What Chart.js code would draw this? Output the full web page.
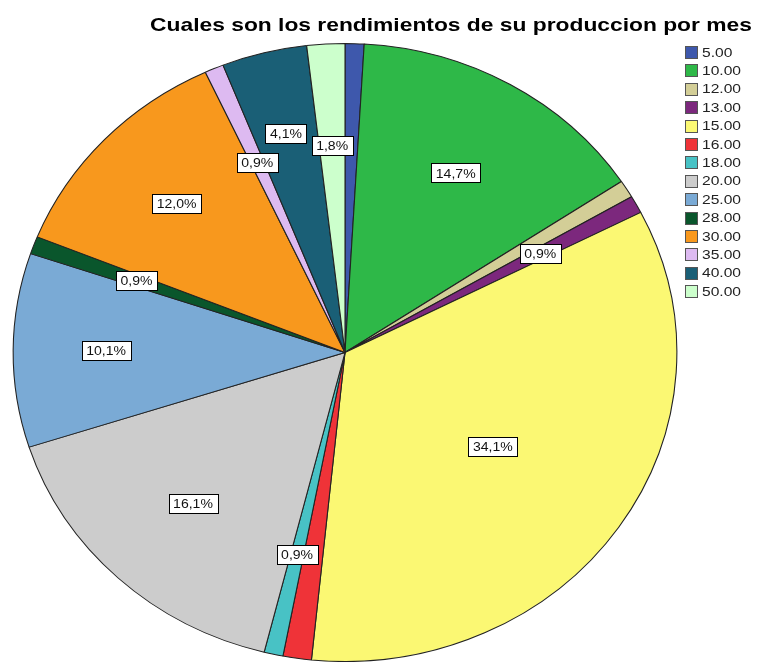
<!DOCTYPE html>
<html>
<head>
<meta charset="utf-8">
<script src="https://cdn.jsdelivr.net/npm/chart.js@4"></script>
<style>
  body { margin: 0; background: #fff; }
  canvas { display: block; }
</style>
</head>
<body>
<canvas id="pie" width="761" height="662"></canvas>
<script>
// valores de la variable y frecuencias (n = 217)
const categorias = ['5.00', '10.00', '12.00', '13.00', '15.00', '16.00', '18.00', '20.00', '25.00', '28.00', '30.00', '35.00', '40.00', '50.00'];
const frecuencias = [2, 32, 2, 2, 74, 3, 2, 35, 22, 2, 26, 2, 9, 4];
const colores = ['#3e58ac', '#2eb848', '#d3ce97', '#7c287d', '#fbf873', '#ef3338', '#48c2c5', '#cccccc', '#7aaad5', '#0a562c', '#f8981d', '#ddbaf1', '#1a5f76', '#ccffcc'];
const conEtiqueta = ['10.00', '13.00', '15.00', '18.00', '20.00', '25.00', '28.00', '30.00', '35.00', '40.00', '50.00'];
const titulo = 'Cuales son los rendimientos de su produccion por mes';

const FONT = 'Arial, "Liberation Sans", sans-serif';
const SX = 1.074; // el gráfico original está algo estirado a lo ancho
const radioEtiqueta = { '15.00': 0.54, '25.00': 0.72, '30.00': 0.70, '40.00': 0.73 };

const total = frecuencias.reduce((s, v) => s + v, 0);
const pct = v => (v / total * 100).toFixed(1).replace('.', ',') + '%';

// texto ensanchado en horizontal, como en la imagen original
function texto(ctx, t, x, y, sx) {
    ctx.save();
    ctx.translate(x, y);
    ctx.scale(sx, 1);
    ctx.fillText(t, 0, 0);
    ctx.restore();
}

const estirar = {
    id: 'estirar',
    beforeDatasetsDraw(chart) {
        const arc = chart.getDatasetMeta(0).data[0];
        const ctx = chart.ctx;
        ctx.save();
        ctx.translate(arc.x, arc.y);
        ctx.scale(SX, 1);
        ctx.translate(-arc.x, -arc.y);
    },
    afterDatasetsDraw(chart) {
        chart.ctx.restore();
    }
};

const textos = {
    id: 'textos',
    afterDraw(chart) {
        const ctx = chart.ctx;
        const meta = chart.getDatasetMeta(0);
        // etiquetas de porcentaje
        ctx.save();
        ctx.font = '13px ' + FONT;
        ctx.textAlign = 'center';
        ctx.textBaseline = 'middle';
        meta.data.forEach((arc, i) => {
            const cat = categorias[i];
            if (!conEtiqueta.includes(cat)) return;
            const mid = (arc.startAngle + arc.endAngle) / 2;
            const f = radioEtiqueta[cat] || 0.67;
            const x = arc.x + SX * arc.outerRadius * f * Math.cos(mid);
            const y = arc.y + arc.outerRadius * f * Math.sin(mid);
            const t = pct(frecuencias[i]);
            const w = ctx.measureText(t).width * 1.08 + 9;
            const h = 19;
            const bx = Math.round(x - w / 2) + 0.5, by = Math.round(y - h / 2) + 0.5;
            ctx.fillStyle = '#fff';
            ctx.fillRect(bx, by, Math.round(w), h);
            ctx.strokeStyle = '#000';
            ctx.lineWidth = 1;
            ctx.strokeRect(bx, by, Math.round(w), h);
            ctx.fillStyle = '#111';
            texto(ctx, t, x, y + 1, 1.08);
        });
        ctx.restore();

        // título
        ctx.save();
        ctx.font = 'bold 19px ' + FONT;
        ctx.fillStyle = '#000';
        ctx.textAlign = 'center';
        ctx.textBaseline = 'middle';
        texto(ctx, titulo, 451, 26, 1.2);
        ctx.restore();

        // leyenda
        ctx.save();
        ctx.font = '13px ' + FONT;
        ctx.textBaseline = 'middle';
        categorias.forEach((c, i) => {
            const y = 52 + i * 18.4;
            ctx.fillStyle = colores[i];
            ctx.fillRect(685.5, Math.round(y - 6) + 0.5, 12, 12);
            ctx.strokeStyle = '#555';
            ctx.lineWidth = 1;
            ctx.strokeRect(685.5, Math.round(y - 6) + 0.5, 12, 12);
            ctx.fillStyle = '#222';
            texto(ctx, c, 702, y + 1, 1.2);
        });
        ctx.restore();
    }
};

new Chart(document.getElementById('pie').getContext('2d'), {
    type: 'pie',
    data: {
        labels: categorias,
        datasets: [{
            data: frecuencias,
            backgroundColor: colores,
            borderColor: '#222',
            borderWidth: 1
        }]
    },
    options: {
        responsive: false,
        animation: false,
        layout: { padding: { left: 35, right: 106, top: 43, bottom: 0 } },
        plugins: {
            legend: { display: false },
            title: { display: false },
            tooltip: { enabled: false }
        }
    },
    plugins: [estirar, textos]
});
</script>
</body>
</html>
